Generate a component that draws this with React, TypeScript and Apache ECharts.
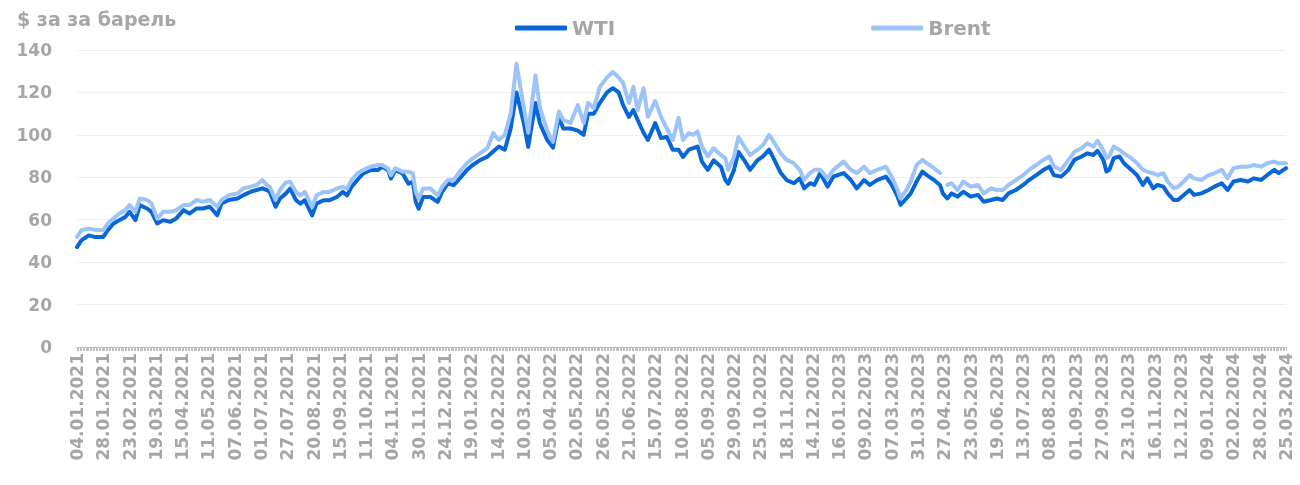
import React, { useEffect, useRef } from "react";
import * as echarts from "echarts";

const tickLabels = [
  "04.01.2021", "28.01.2021", "23.02.2021", "19.03.2021", "15.04.2021", "11.05.2021",
  "07.06.2021", "01.07.2021", "27.07.2021", "20.08.2021", "15.09.2021", "11.10.2021",
  "04.11.2021", "30.11.2021", "24.12.2021", "19.01.2022", "14.02.2022", "10.03.2022",
  "05.04.2022", "02.05.2022", "26.05.2022", "21.06.2022", "15.07.2022", "10.08.2022",
  "05.09.2022", "29.09.2022", "25.10.2022", "18.11.2022", "14.12.2022", "16.01.2023",
  "09.02.2023", "07.03.2023", "31.03.2023", "27.04.2023", "23.05.2023", "19.06.2023",
  "13.07.2023", "08.08.2023", "01.09.2023", "27.09.2023", "23.10.2023", "16.11.2023",
  "12.12.2023", "09.01.2024", "02.02.2024", "28.02.2024", "25.03.2024",
];

// trading-day index of each reading (tick labels every 18 trading days)
const dayIndex = [
  0, 3, 8, 12, 18, 21, 25, 29, 33, 36,
  40, 43, 48, 51, 55, 59, 64, 68, 73, 77,
  82, 86, 91, 96, 99, 104, 110, 114, 119, 123,
  127, 130, 132, 136, 139, 143, 146, 150, 153, 156,
  161, 164, 169, 173, 178, 182, 185, 188, 192, 196,
  201, 206, 209, 213, 215, 218, 223, 227, 230, 232,
  234, 237, 242, 247, 250, 254, 258, 262, 267, 271,
  276, 281, 285, 289, 293, 297, 301, 306, 309, 314,
  317, 322, 326, 330, 333, 338, 343, 347, 350, 354,
  358, 363, 367, 371, 374, 378, 381, 384, 388, 391,
  396, 400, 404, 408, 412, 415, 419, 422, 425, 428,
  432, 436, 441, 444, 446, 450, 453, 457, 461, 466,
  470, 474, 477, 482, 486, 491, 495, 498, 502, 505,
  509, 514, 518, 525, 530, 534, 539, 543, 548, 554,
  558, 562, 564, 568, 571, 575, 579, 582, 587, 591,
  593, 596, 599, 603, 607, 612, 617, 621, 626, 630,
  634, 638, 643, 648, 652, 657, 662, 666, 669, 674,
  679, 683, 688, 692, 696, 699, 703, 705, 707, 710,
  714, 717, 722, 726, 730, 733, 737, 740, 744, 747,
  751, 754, 758, 762, 765, 770, 775, 779, 784, 788,
  792, 797, 802, 806, 811, 815, 820, 823, 828,
];

const wti = [
  47.1, 50.3, 52.6, 51.9, 51.9, 55.0, 58.2, 59.8, 61.3, 63.7,
  59.8, 66.9, 65.3, 63.7, 58.2, 59.8, 59.0, 60.6, 64.5, 62.9,
  65.3, 65.3, 66.1, 62.1, 67.7, 69.3, 70.0, 71.6, 73.2, 74.0,
  74.8, 74.0, 73.2, 66.1, 70.0, 72.3, 74.7, 69.2, 67.6, 69.2,
  62.0, 67.6, 69.2, 69.2, 70.7, 73.1, 71.5, 75.5, 78.7, 81.8,
  83.4, 83.4, 85.0, 83.4, 79.4, 83.4, 81.8, 77.0, 77.9, 68.4,
  65.2, 70.7, 70.7, 68.4, 73.1, 77.0, 76.3, 79.4, 83.4, 85.8,
  88.1, 89.7, 92.1, 94.5, 93.0, 103.0, 120.0, 105.5, 94.3, 115.0,
  105.5, 97.6, 94.0, 108.5, 103.0, 103.0, 102.0, 100.0, 110.0, 110.0,
  115.0, 120.0, 122.0, 120.0, 114.0, 108.5, 111.7, 107.0, 101.0, 97.6,
  105.6, 98.5, 99.0, 93.0, 93.0, 89.6, 93.0, 93.7, 94.5, 87.4,
  83.5, 88.0, 85.0, 78.7, 77.0, 83.5, 92.0, 88.0, 83.5, 88.0,
  90.0, 93.0, 89.0, 82.0, 78.7, 77.2, 79.5, 74.8, 77.2, 76.4,
  82.0, 75.6, 80.3, 82.0, 78.7, 74.8, 78.7, 76.4, 78.7, 80.3,
  76.4, 70.9, 67.0, 70.0, 72.4, 78.0, 82.7, 81.0, 78.7, 76.4,
  72.4, 70.0, 72.4, 70.9, 73.2, 70.9, 71.7, 68.5, 69.3, 70.0,
  69.3, 72.4, 74.0, 76.4, 78.7, 81.0, 83.5, 85.0, 81.0, 80.3,
  83.5, 88.2, 89.8, 91.3, 90.5, 92.5, 88.0, 82.7, 83.5, 89.0,
  89.8, 86.6, 83.5, 81.0, 76.4, 79.5, 74.8, 76.4, 75.6, 72.4,
  69.3, 69.3, 71.7, 74.0, 71.7, 72.4, 74.0, 75.6, 77.2, 74.0,
  78.0, 78.7, 78.0, 79.5, 78.7, 81.0, 83.5, 82.0, 84.3,
];

const brent = [
  51.9, 55.0, 55.8, 55.3, 55.0, 58.2, 60.5, 62.9, 64.5, 66.9,
  63.7, 70.0, 69.3, 67.7, 60.5, 63.7, 63.7, 64.5, 66.9, 66.9,
  69.3, 68.5, 69.3, 66.1, 69.3, 71.6, 72.4, 74.8, 75.6, 76.4,
  78.7, 76.4, 75.6, 69.3, 74.0, 77.5, 77.9, 73.1, 71.5, 73.1,
  66.0, 71.5, 73.1, 73.1, 74.7, 75.5, 74.7, 78.7, 81.8, 83.4,
  85.0, 85.8, 85.8, 84.2, 81.0, 84.2, 82.6, 82.6, 81.8, 73.1,
  70.0, 74.7, 74.7, 71.5, 75.5, 78.7, 78.7, 82.6, 86.6, 88.9,
  91.3, 93.7, 100.8, 97.6, 100.0, 110.0, 133.5, 113.0, 101.0, 128.0,
  113.0, 102.0, 96.7, 111.0, 107.0, 105.6, 114.0, 105.6, 115.0, 112.6,
  122.6, 127.0, 129.6, 127.0, 124.5, 115.0, 122.6, 111.7, 122.0, 108.5,
  116.0, 108.5, 103.0, 97.6, 108.0, 97.6, 100.8, 100.0, 101.6, 94.5,
  89.8, 93.7, 90.5, 89.0, 83.5, 89.8, 99.0, 94.5, 90.5, 93.0,
  95.3, 100.0, 96.8, 91.3, 88.2, 86.6, 83.5, 78.7, 82.0, 83.5,
  83.5, 79.5, 83.5, 87.4, 83.5, 82.0, 85.0, 82.0, 83.5, 85.0,
  80.3, 74.0, 70.0, 74.0, 78.0, 85.8, 88.2, 86.6, 84.3, 82.0,
  null, 76.4, 77.2, 74.0, 78.0, 75.6, 76.4, 72.4, 74.8, 74.0,
  74.0, 76.4, 78.7, 81.0, 83.5, 85.8, 88.2, 89.8, 85.0, 83.5,
  88.2, 92.0, 93.7, 96.0, 94.5, 97.2, 92.5, 89.0, 90.0, 94.5,
  92.9, 91.3, 89.0, 86.6, 83.5, 82.7, 81.9, 81.0, 81.9, 78.0,
  74.8, 75.6, 78.0, 81.0, 79.5, 78.7, 81.0, 81.9, 83.5, 79.5,
  84.3, 85.0, 85.0, 85.8, 85.0, 86.6, 87.4, 86.6, 86.6,
];

const seriesNames = ["WTI", "Brent"];
const seriesColors = ["#0866D6", "#9CC4F8"];
const titleText = "$ за за барель";

const FONT = '"DejaVu Sans", "Liberation Sans", sans-serif';
const GREY = "#A6A6A6";

export default function App() {
  const ref = useRef<HTMLDivElement>(null);
  useEffect(() => {
    if (!ref.current) return;
    const chart = echarts.init(ref.current, null, { renderer: "svg" });
    const toData = (vals: (number | null)[]) =>
      dayIndex.map((d, i) => [d, vals[i] === null ? "-" : vals[i]]);
    chart.setOption({
      animation: false,
      title: {
        text: titleText,
        left: 17,
        top: 9,
        padding: 0,
        textStyle: { fontFamily: FONT, fontSize: 19, fontWeight: "bold", color: GREY },
      },
      legend: {
        data: seriesNames,
        left: 510,
        top: 13,
        icon: "roundRect",
        itemWidth: 52,
        itemHeight: 5,
        itemGap: 256,
        textStyle: { fontFamily: FONT, fontSize: 20, fontWeight: "bold", color: GREY },
      },
      grid: { left: 77, right: 14, top: 50, bottom: 138 },
      xAxis: {
        type: "value",
        min: 0,
        max: 828,
        interval: 18,
        axisLine: { show: true, onZero: false, lineStyle: { color: "#BFBFBF", width: 1 } },
        axisTick: { show: true, length: 4, lineStyle: { color: "#BFBFBF" } },
        minorTick: { show: true, splitNumber: 18, length: 4, lineStyle: { color: "#BFBFBF" } },
        splitLine: { show: false },
        axisLabel: {
          rotate: 90,
          margin: 6,
          showMinLabel: true,
          showMaxLabel: true,
          fontFamily: FONT,
          fontSize: 17,
          fontWeight: "bold",
          color: GREY,
          formatter: (v: number) => tickLabels[Math.round(v / 18)] ?? "",
        },
      },
      yAxis: {
        type: "value",
        min: 0,
        max: 140,
        interval: 20,
        offset: 25,
        axisLine: { show: false, onZero: false },
        axisTick: { show: false },
        splitLine: { lineStyle: { color: "#EEEEEE", width: 1 } },
        axisLabel: {
          margin: 0,
          align: "right",
          fontFamily: FONT,
          fontSize: 17,
          fontWeight: "bold",
          color: GREY,
        },
      },
      series: [
        {
          name: seriesNames[0],
          type: "line",
          data: toData(wti),
          showSymbol: false,
          color: seriesColors[0],
          lineStyle: { width: 4, color: seriesColors[0], cap: "round", join: "round" },
        },
        {
          name: seriesNames[1],
          type: "line",
          data: toData(brent),
          showSymbol: false,
          connectNulls: false,
          color: seriesColors[1],
          lineStyle: { width: 4, color: seriesColors[1], cap: "round", join: "round" },
        },
      ],
    });
    return () => chart.dispose();
  }, []);
  return (
    <div
      ref={ref}
      style={{ position: "fixed", left: 0, top: 0, width: 1300, height: 485 }}
    />
  );
}
